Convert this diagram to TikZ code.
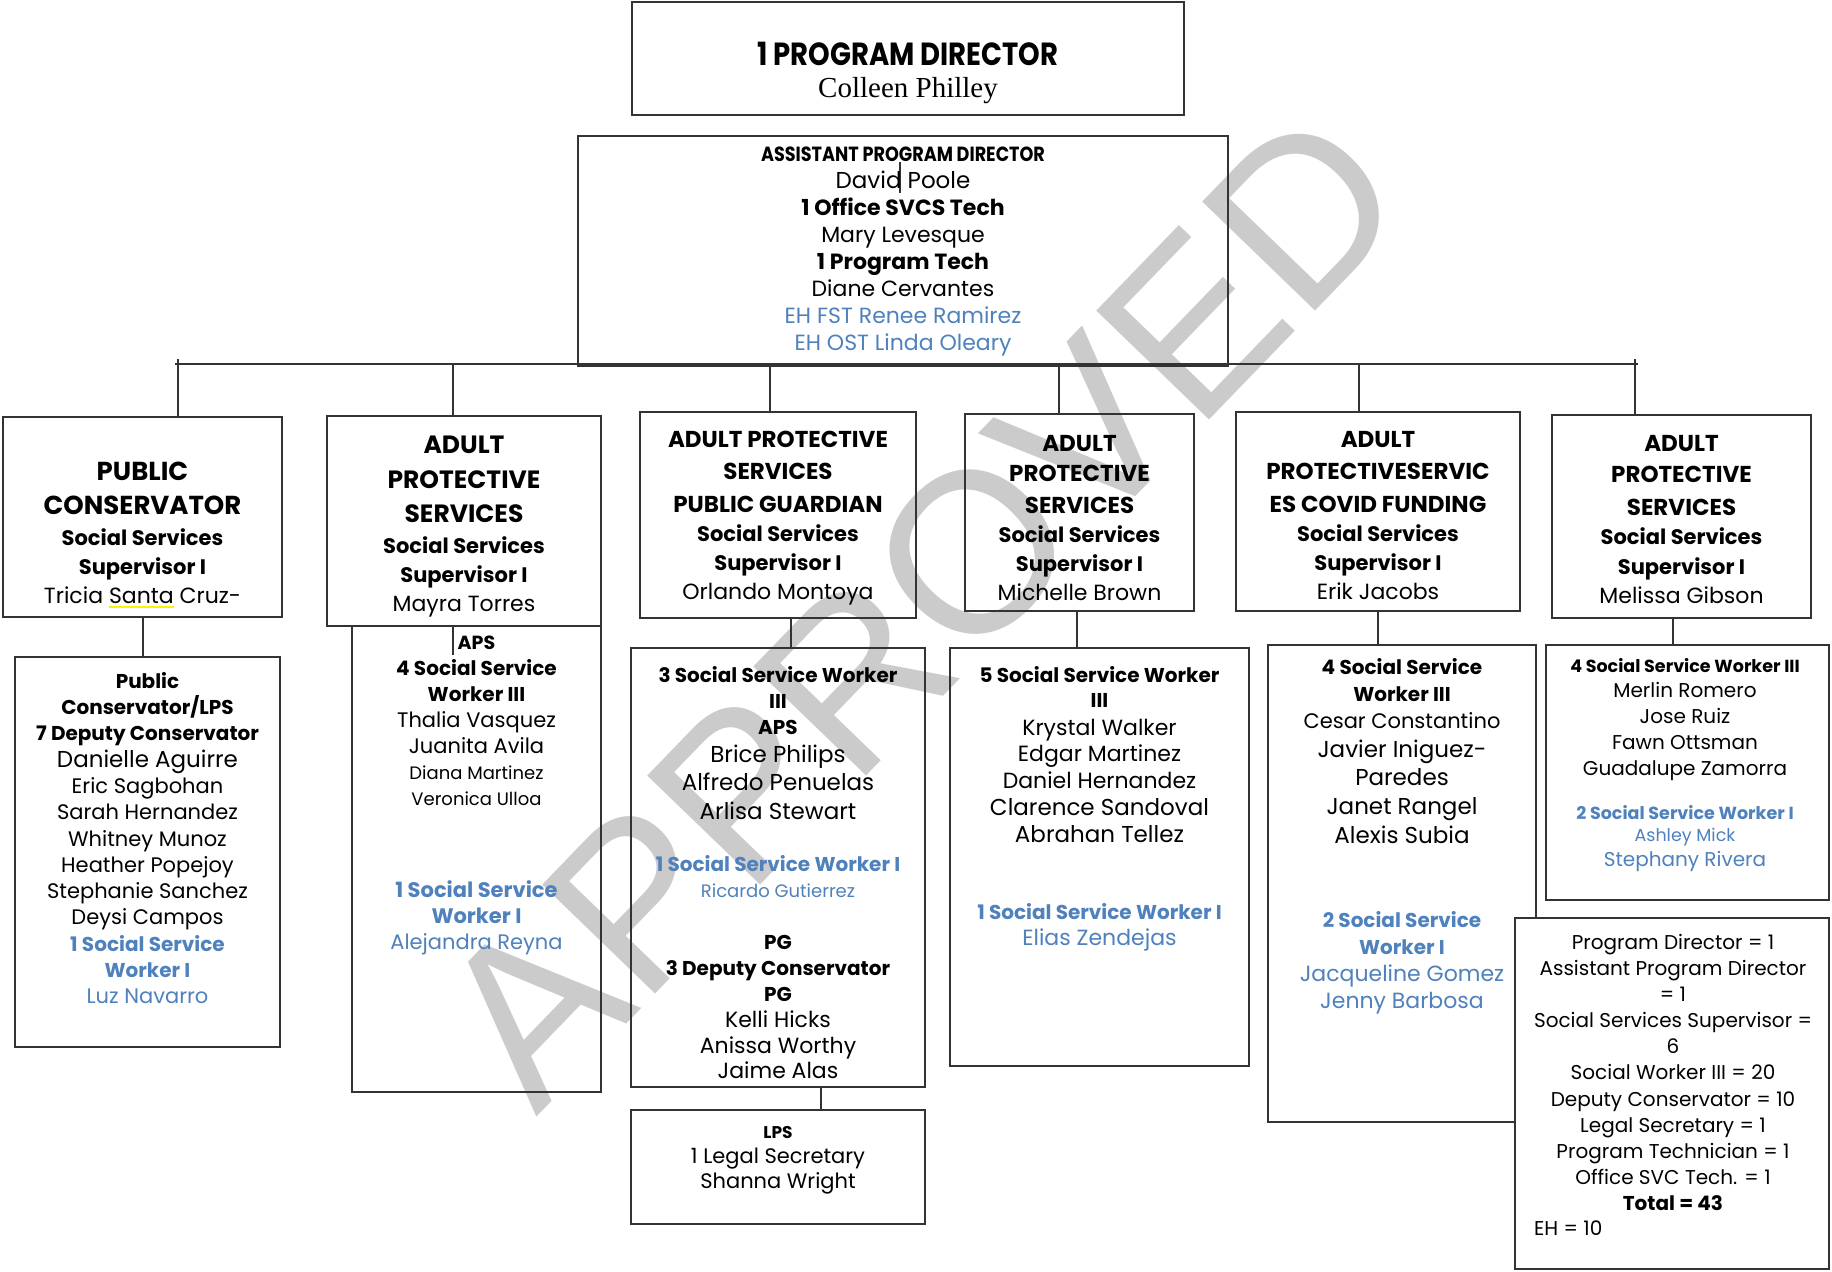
\documentclass[tikz,border=0pt]{standalone}
\usepackage{fontspec}
\setmainfont{Poppins}
\newfontfamily\condfont[FakeStretch=0.86]{Poppins}
\newfontfamily\timesfont{Liberation Serif}
\newfontfamily\markfont{Liberation Sans}
\definecolor{ehblue}{HTML}{4F81BD}
\definecolor{markgray}{HTML}{CBCBCB}
\definecolor{inkline}{HTML}{333333}
\newcommand\sz[1]{\fontsize{#1}{#1}\selectfont}
% yellow marker line under a word
\newcommand\hlword[1]{\setbox0=\hbox{#1}\rlap{\color{yellow}\rule[-4pt]{\wd0}{1.6pt}}\box0\relax}
% a framed box given by its left, top, right and bottom edges
\newcommand\orgbox[5]{\node[frame, minimum width={#4-#2}, minimum height={#5-#3}] (#1) at ({(#2+#4)/2},{(#3+#5)/2}) {};}

\begin{document}
\begin{tikzpicture}[x=1pt,y=-1pt,
  frame/.style={draw=inkline, line width=2pt, inner sep=0pt},
  link/.style={draw=inkline, line width=1.8pt},
  txt/.style={align=center, inner sep=0pt, anchor=north, text=black},
]
\fill[white] (0,0) rectangle (1832,1272);
\useasboundingbox (0,0) rectangle (1832,1272);

% stamp behind the chart
\node[font=\markfont\fontsize{228}{228}\selectfont, text=markgray, rotate=46] (stamp) at (920,607) {APPROVED};

% ---------- boxes ----------
\orgbox{top}{632}{2}{1184}{115}
\orgbox{apd}{578}{136}{1228}{366}
\orgbox{s1}{3}{417}{282}{617}
\orgbox{s2}{327}{416}{601}{626}
\orgbox{s3}{640}{412}{916}{618}
\orgbox{s4}{965}{414}{1194}{611}
\orgbox{s5}{1236}{412}{1520}{611}
\orgbox{s6}{1552}{415}{1811}{618}
\orgbox{w1}{15}{657}{280}{1047}
\orgbox{w2}{352}{626}{601}{1092}
\orgbox{w3}{631}{648}{925}{1087}
\orgbox{lps}{631}{1110}{925}{1224}
\orgbox{w5}{950}{648}{1249}{1066}
\orgbox{w6}{1268}{645}{1536}{1122}
\orgbox{w7}{1546}{645}{1829}{900}
\node[frame, fill=white, minimum width=314, minimum height=351] (sum) at (1672,1093.5) {};

% ---------- connectors ----------
\coordinate (barL) at (175,364);
\coordinate (barR) at (1638,364);
\draw[link] (barL) -- (barR);
\coordinate (d1) at (178,359);
\coordinate (d2) at (453,364);
\coordinate (d3) at (770,364);
\coordinate (d4) at (1059,364);
\coordinate (d5) at (1359,364);
\coordinate (d6) at (1635,359);
\draw[link] (d1) -- (d1 |- s1.north);
\draw[link] (d2) -- (d2 |- s2.north);
\draw[link] (d3) -- (d3 |- s3.north);
\draw[link] (d4) -- (d4 |- s4.north);
\draw[link] (d5) -- (d5 |- s5.north);
\draw[link] (d6) -- (d6 |- s6.north);
\coordinate (tk1) at (900,162);
\coordinate (tk2) at (900,193);
\draw[link] (tk1) -- (tk2);
\coordinate (c1) at (143,0);
\draw[link] (c1 |- s1.south) -- (c1 |- w1.north);
\coordinate (c2) at (453,655);
\draw[link] (c2 |- s2.south) -- (c2);
\coordinate (c3) at (791,0);
\draw[link] (c3 |- s3.south) -- (c3 |- w3.north);
\coordinate (c4) at (821,0);
\draw[link] (c4 |- w3.south) -- (c4 |- lps.north);
\coordinate (c5) at (1077,0);
\draw[link] (c5 |- s4.south) -- (c5 |- w5.north);
\coordinate (c6) at (1378,0);
\draw[link] (c6 |- s5.south) -- (c6 |- w6.north);
\coordinate (c7) at (1673,0);
\draw[link] (c7 |- s6.south) -- (c7 |- w7.north);

% ---------- texts ----------
\node[txt, font=\fontsize{32}{32}\selectfont] (top-t) at (908,42) {%
  {\condfont\bfseries 1 PROGRAM DIRECTOR}\\
  {\timesfont\sz{29}Colleen Philley}};

\node[txt, font=\fontsize{22}{27}\selectfont] (apd-t) at (903,147) {%
  {\condfont\bfseries\sz{20.5}ASSISTANT PROGRAM DIRECTOR}\\
  {\sz{23}David Poole}\\
  {\bfseries 1 Office SVCS Tech}\\
  Mary Levesque\\
  {\bfseries 1 Program Tech}\\
  Diane Cervantes\\
  {\color{ehblue}EH FST Renee Ramirez}\\
  {\color{ehblue}EH OST Linda Oleary}};

\node[txt, font=\fontsize{21}{29}\selectfont] (s1-t) at (142.5,462) {%
  {\bfseries\sz{26}PUBLIC}\\[5pt]
  {\bfseries\sz{26}CONSERVATOR}\\[2pt]
  {\bfseries Social Services}\\
  {\bfseries Supervisor I}\\
  {\sz{22}Tricia \hlword{Santa} Cruz-}};

\node[txt, font=\fontsize{21}{29}\selectfont] (s2-t) at (464,436) {%
  {\bfseries\sz{25}ADULT}\\[6pt]
  {\bfseries\sz{25}PROTECTIVE}\\[5pt]
  {\bfseries\sz{25}SERVICES}\\[2pt]
  {\bfseries Social Services}\\
  {\bfseries Supervisor I}\\
  {\sz{22}Mayra Torres}};

\node[txt, font=\fontsize{21}{29}\selectfont] (s3-t) at (778,431) {%
  {\bfseries\sz{23}ADULT PROTECTIVE}\\[3pt]
  {\bfseries\sz{23}SERVICES}\\[4pt]
  {\bfseries\sz{23}PUBLIC GUARDIAN}\\
  {\bfseries Social Services}\\
  {\bfseries Supervisor I}\\
  {\sz{22}Orlando Montoya}};

\node[txt, font=\fontsize{21}{29}\selectfont] (s4-t) at (1079.5,435) {%
  {\bfseries\sz{23}ADULT}\\[1pt]
  {\bfseries\sz{23}PROTECTIVE}\\[3pt]
  {\bfseries\sz{23}SERVICES}\\
  {\bfseries Social Services}\\
  {\bfseries Supervisor I}\\
  {\sz{22}Michelle Brown}};

\node[txt, font=\fontsize{21}{29}\selectfont] (s5-t) at (1378,431) {%
  {\bfseries\sz{23}ADULT}\\[3pt]
  {\bfseries\sz{23}PROTECTIVESERVIC}\\[4pt]
  {\bfseries\sz{23}ES COVID FUNDING}\\
  {\bfseries Social Services}\\
  {\bfseries Supervisor I}\\
  {\sz{22}Erik Jacobs}};

\node[txt, font=\fontsize{21}{29}\selectfont] (s6-t) at (1681.5,435) {%
  {\bfseries\sz{23}ADULT}\\[2pt]
  {\bfseries\sz{23}PROTECTIVE}\\[4pt]
  {\bfseries\sz{23}SERVICES}\\
  {\bfseries Social Services}\\[1pt]
  {\bfseries Supervisor I}\\
  {\sz{22}Melissa Gibson}};

\node[txt, font=\fontsize{21}{26.3}\selectfont] (w1-t) at (147.5,672) {%
  {\bfseries\sz{20}Public}\\
  {\bfseries\sz{20}Conservator/LPS}\\
  {\bfseries\sz{20}7 Deputy Conservator}\\
  {\sz{23}Danielle Aguirre}\\
  Eric Sagbohan\\
  Sarah Hernandez\\
  Whitney Munoz\\
  Heather Popejoy\\
  Stephanie Sanchez\\
  Deysi Campos\\
  {\color{ehblue}\bfseries\sz{20}1 Social Service}\\
  {\color{ehblue}\bfseries\sz{20}Worker I}\\
  {\color{ehblue}Luz Navarro}};

\node[txt, font=\fontsize{21}{26}\selectfont] (w2-t) at (476.5,636) {%
  {\bfseries\sz{19}APS}\\
  {\bfseries\sz{20}4 Social Service}\\
  {\bfseries\sz{20}Worker III}\\
  Thalia Vasquez\\
  Juanita Avila\\
  {\sz{18}Diana Martinez}\\
  {\sz{18}Veronica Ulloa}\\[66pt]
  {\color{ehblue}\bfseries\sz{21}1 Social Service}\\
  {\color{ehblue}\bfseries\sz{21}Worker I}\\
  {\color{ehblue}Alejandra Reyna}};

\node[txt, font=\fontsize{22}{26}\selectfont] (w3-t) at (778,666) {%
  {\bfseries\sz{20}3 Social Service Worker}\\
  {\bfseries\sz{20}III}\\
  {\bfseries\sz{20}APS}\\[2pt]
  {\sz{23}Brice Philips}\\[2pt]
  {\sz{23}Alfredo Penuelas}\\[3pt]
  {\sz{23}Arlisa Stewart}\\[26pt]
  {\color{ehblue}\bfseries\sz{20}1 Social Service Worker I}\\
  {\color{ehblue}\sz{18}Ricardo Gutierrez}\\[26pt]
  {\bfseries\sz{20}PG}\\
  {\bfseries\sz{20}3 Deputy Conservator}\\
  {\bfseries\sz{20}PG}\\
  Kelli Hicks\\
  Anissa Worthy\\[-1pt]
  Jaime Alas};

\node[txt, font=\fontsize{21}{25}\selectfont] (lps-t) at (778,1126) {%
  {\bfseries\sz{17}LPS}\\
  1 Legal Secretary\\
  Shanna Wright};

\node[txt, font=\fontsize{22}{26.5}\selectfont] (w5-t) at (1099.5,666) {%
  {\bfseries\sz{20}5 Social Service Worker}\\[-1pt]
  {\bfseries\sz{20}III}\\[1pt]
  Krystal Walker\\
  Edgar Martinez\\
  Daniel Hernandez\\[1pt]
  {\sz{23}Clarence Sandoval}\\
  {\sz{23}Abrahan Tellez}\\[51pt]
  {\color{ehblue}\bfseries\sz{20}1 Social Service Worker I}\\[-1pt]
  {\color{ehblue}Elias Zendejas}};

\node[txt, font=\fontsize{22}{27}\selectfont] (w6-t) at (1402,658) {%
  {\bfseries\sz{20}4 Social Service}\\
  {\bfseries\sz{20}Worker III}\\
  {\sz{21}Cesar Constantino}\\[2pt]
  {\sz{23}Javier Iniguez-}\\[1pt]
  {\sz{23}Paredes}\\[2pt]
  {\sz{23}Janet Rangel}\\[2pt]
  {\sz{23}Alexis Subia}\\[57pt]
  {\color{ehblue}\bfseries\sz{20}2 Social Service}\\
  {\color{ehblue}\bfseries\sz{20}Worker I}\\
  {\color{ehblue}Jacqueline Gomez}\\
  {\color{ehblue}Jenny Barbosa}};

\node[txt, font=\fontsize{20}{25.5}\selectfont] (w7-t) at (1685,658) {%
  {\bfseries\sz{17.5}4 Social Service Worker III}\\
  Merlin Romero\\
  Jose Ruiz\\[1pt]
  Fawn Ottsman\\
  Guadalupe Zamorra\\[19pt]
  {\color{ehblue}\bfseries\sz{17.5}2 Social Service Worker I}\\[-4pt]
  {\color{ehblue}\sz{17.5}Ashley Mick}\\
  {\color{ehblue}Stephany Rivera}};

\node[txt, font=\fontsize{20}{26.1}\selectfont] (sum-t) at (1673,934) {%
  Program Director = 1\\
  Assistant Program Director\\
  = 1\\
  Social Services Supervisor =\\
  6\\
  Social Worker III = 20\\
  Deputy Conservator = 10\\
  Legal Secretary = 1\\
  Program Technician = 1\\
  Office SVC Tech. = 1\\
  {\bfseries Total = 43}};
\node[inner sep=0pt, anchor=base west, font=\sz{20}] (eh) at (1534,1235) {EH = 10};
\end{tikzpicture}
\end{document}
